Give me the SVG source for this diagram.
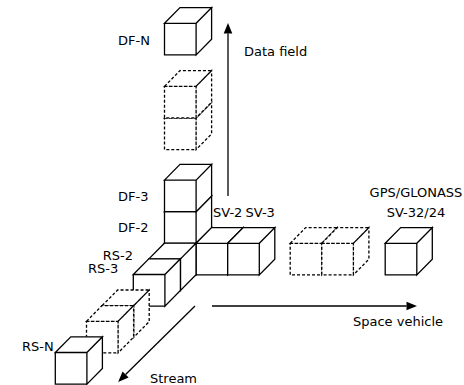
<svg xmlns="http://www.w3.org/2000/svg" xmlns:xlink="http://www.w3.org/1999/xlink" width="464" height="385" viewBox="0 0 464 385">
<style>
.cs{fill:#fff;stroke:#000;stroke-width:1.3;stroke-linejoin:miter}
.cd{fill:#fff;stroke:#000;stroke-width:1.3;stroke-dasharray:3 2}
.ln{fill:none;stroke:#000;stroke-width:1.3}
text{font-family:"DejaVu Sans","Liberation Sans",sans-serif;font-size:13px;fill:#000}
</style>
<defs>
<path id="cube" d="M0,0 H31.6 V31.6 H0 Z M0,0 L15.5,-15.7 H47.1 L31.6,0 Z M31.6,0 L47.1,-15.7 V15.9 L31.6,31.6 Z"/>
<marker id="ah" markerUnits="userSpaceOnUse" markerWidth="12" markerHeight="10" refX="0" refY="4.3" orient="auto" overflow="visible">
<path d="M0,0 L10.5,4.3 L0,8.6 Z" fill="#000"/>
</marker>
</defs>
<g id="connectors">
<line class="ln" x1="228" y1="196" x2="228" y2="33.5" marker-end="url(#ah)"/>
<line class="ln" x1="212" y1="306" x2="406.5" y2="306" marker-end="url(#ah)"/>
<line class="ln" x1="195" y1="306" x2="125.6" y2="374.5" marker-end="url(#ah)"/>
</g>
<g id="origin"><use href="#cube" class="cs" x="164.5" y="243.3"/></g>
<g id="df-2"><use href="#cube" class="cs" x="164.5" y="211.7"/><text x="118" y="232">DF-2</text></g>
<g id="df-3"><use href="#cube" class="cs" x="164.5" y="180.1"/><text x="118" y="201">DF-3</text></g>
<g id="df-dashed"><use href="#cube" class="cd" x="164.5" y="118"/><use href="#cube" class="cd" x="164.5" y="86.3"/></g>
<g id="df-n"><use href="#cube" class="cs" x="164.5" y="23.3"/><text x="118" y="44.5">DF-N</text></g>
<g id="sv-2"><use href="#cube" class="cs" x="196.1" y="243.3"/><text x="213" y="217">SV-2</text></g>
<g id="sv-3"><use href="#cube" class="cs" x="227.7" y="243.3"/><text x="245.5" y="217">SV-3</text></g>
<g id="sv-dashed"><use href="#cube" class="cd" x="290.2" y="243.3"/><use href="#cube" class="cd" x="321.8" y="243.3"/></g>
<g id="sv-n"><use href="#cube" class="cs" x="385.2" y="243.3"/><text x="416" y="197" text-anchor="middle">GPS/GLONASS</text><text x="416" y="217" text-anchor="middle">SV-32/24</text></g>
<g id="rs-2"><use href="#cube" class="cs" x="148.9" y="258.9"/><text x="102.7" y="260">RS-2</text></g>
<g id="rs-3"><use href="#cube" class="cs" x="133.3" y="274.5"/><text x="88" y="273">RS-3</text></g>
<g id="rs-dashed"><use href="#cube" class="cd" x="102.1" y="305.7"/><use href="#cube" class="cd" x="86.5" y="321.3"/></g>
<g id="rs-n"><use href="#cube" class="cs" x="55.3" y="352.5"/><text x="22" y="351">RS-N</text></g>
<g id="axis-labels">
<text x="244" y="55.5">Data field</text>
<text x="353" y="326">Space vehicle</text>
<text x="150" y="382.5">Stream</text>
</g>
</svg>
